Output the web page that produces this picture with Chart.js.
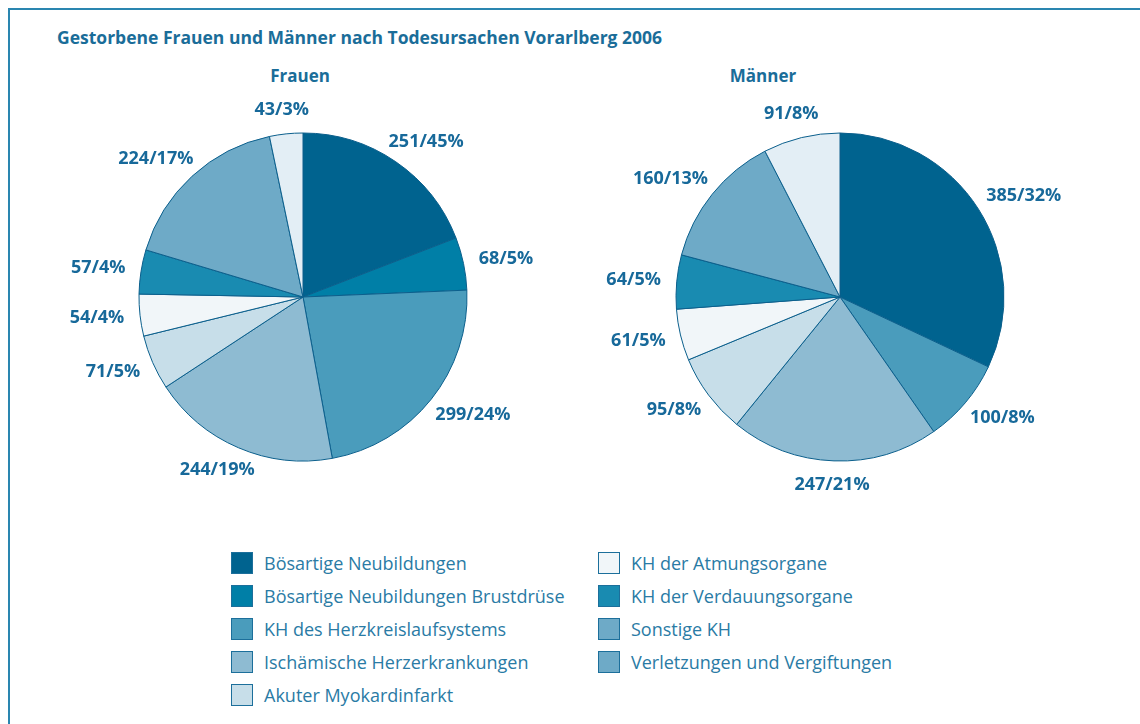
<!DOCTYPE html>
<html lang="de">
<head>
<meta charset="utf-8"/>
<title>Gestorbene Frauen und Männer nach Todesursachen</title>
<script src="https://cdn.jsdelivr.net/npm/chart.js"></script>
<style>
    body { margin: 0; width: 1140px; height: 724px; background: #fff; font-family: "Open Sans", sans-serif; position: relative; overflow: hidden; }
    .frame { position: absolute; left: 8px; top: 8px; width: 1200px; height: 800px; border-left: 2px solid #2a86b0; border-top: 2px solid #2a86b0; }
    .title { position: absolute; left: 57px; top: 25px; font-weight: bold; font-size: 17.5px; color: #1a6d99; }
    .sub { position: absolute; top: 64px; width: 200px; text-align: center; font-weight: bold; font-size: 17px; color: #1a6d99; }
    canvas { position: absolute; top: 87px; }
    .leg { position: absolute; font-size: 18px; color: #2a7ba5; height: 24px; line-height: 24px; white-space: nowrap; }
    .leg span { display: inline-block; width: 22px; height: 22px; border: 1px solid #1c6f9b; box-sizing: border-box; vertical-align: top; margin-right: 11px; margin-top: 1px; }
</style>
</head>
<body>
<div class="frame"></div>
<div class="title">Gestorbene Frauen und Männer nach Todesursachen Vorarlberg 2006</div>
<div class="sub" style="left:200px">Frauen</div>
<div class="sub" style="left:663px">Männer</div>
<canvas id="frauen" width="560" height="420" style="left:23px"></canvas>
<canvas id="maenner" width="560" height="420" style="left:560px"></canvas>
<div id="legende"></div>
<script>
    const kategorien = [
        "Bösartige Neubildungen",
        "Bösartige Neubildungen Brustdrüse",
        "KH des Herzkreislaufsystems",
        "Ischämische Herzerkrankungen",
        "Akuter Myokardinfarkt",
        "KH der Atmungsorgane",
        "KH der Verdauungsorgane",
        "Sonstige KH",
        "Verletzungen und Vergiftungen"
    ];
    const frauen = [251, 68, 299, 244, 71, 54, 57, 224, 43];
    const frauenProzent = ["45%", "5%", "24%", "19%", "5%", "4%", "4%", "17%", "3%"];
    const maenner = [385, null, 100, 247, 95, 61, 64, 160, 91];
    const maennerProzent = ["32%", null, "8%", "21%", "8%", "5%", "5%", "13%", "8%"];

    const farben = ['#00638f', '#007fa7', '#4a9cbc', '#8ebbd2', '#c7dee9', '#f1f6f9', '#198bb1', '#6eaac7', '#e3eef5'];
    const legendeFarben = ['#00638f', '#007fa7', '#4a9cbc', '#8ebbd2', '#c7dee9', '#f1f6f9', '#198bb1', '#6eaac7', '#6eaac7'];

    // Beschriftung außerhalb der Tortenstücke
    const aussenLabels = {
        id: 'aussenLabels',
        afterDraw(chart) {
            const ctx = chart.ctx;
            const ds = chart.data.datasets[0];
            const meta = chart.getDatasetMeta(0);
            ctx.save();
            ctx.font = 'bold 18px "Open Sans"';
            ctx.fillStyle = '#17699a';
            ctx.textAlign = 'center';
            ctx.textBaseline = 'middle';
            meta.data.forEach((arc, i) => {
                if (ds.data[i] == null) return;
                const txt = ds.data[i] + '/' + ds.prozent[i];
                const mid = (arc.startAngle + arc.endAngle) / 2;
                const c = Math.cos(mid), s = Math.sin(mid);
                const r = arc.outerRadius + 16;
                const hw = ctx.measureText(txt).width / 2;
                const x = arc.x + c * r + c * hw;
                const y = arc.y + s * r + s * 8;
                ctx.fillText(txt, x, y);
            });
            ctx.restore();
        }
    };

    function torte(id, werte, prozent) {
        new Chart(document.getElementById(id), {
            type: 'pie',
            data: {
                labels: kategorien,
                datasets: [{
                    data: werte,
                    prozent: prozent,
                    backgroundColor: farben,
                    borderColor: '#0b5f8c',
                    borderWidth: 1,
                    radius: 164
                }]
            },
            options: {
                responsive: false,
                animation: false,
                plugins: { legend: { display: false }, tooltip: { enabled: false } }
            },
            plugins: [aussenLabels]
        });
    }
    torte('frauen', frauen, frauenProzent);
    torte('maenner', maenner, maennerProzent);

    const leg = document.getElementById('legende');
    kategorien.forEach((k, i) => {
        const d = document.createElement('div');
        d.className = 'leg';
        const spalte = i < 5 ? 0 : 1;
        const zeile = i < 5 ? i : i - 5;
        d.style.left = (spalte ? 598 : 231) + 'px';
        d.style.top = (551 + zeile * 33) + 'px';
        d.innerHTML = '<span style="background:' + legendeFarben[i] + '"></span>' + k;
        leg.appendChild(d);
    });
</script>
</body>
</html>
